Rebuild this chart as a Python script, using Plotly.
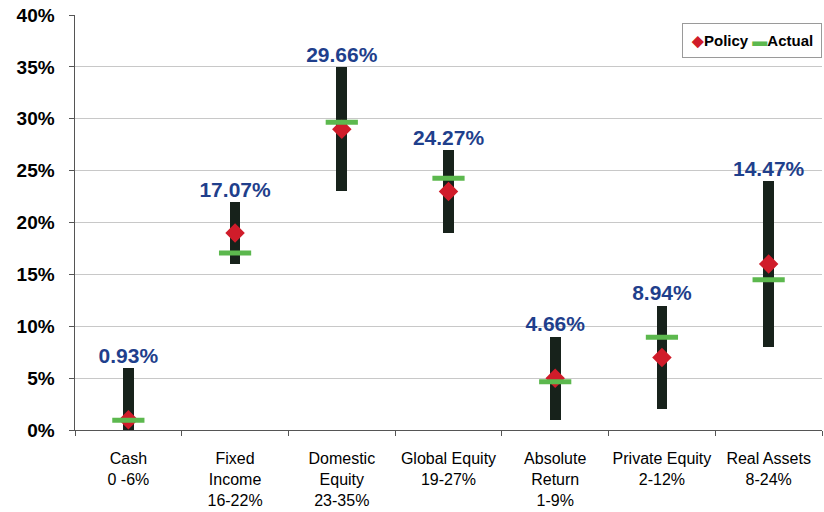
import plotly.graph_objects as go

categories = ["Cash", "Fixed<br>Income", "Domestic<br>Equity", "Global Equity", "Absolute<br>Return", "Private Equity", "Real Assets"]
range_text = ["0 -6%", "16-22%", "23-35%", "19-27%", "1-9%", "2-12%", "8-24%"]
range_low = [0, 16, 23, 19, 1, 2, 8]
range_high = [6, 22, 35, 27, 9, 12, 24]
policy = [1, 19, 29, 23, 5, 7, 16]
actual = [0.93, 17.07, 29.66, 24.27, 4.66, 8.94, 14.47]
y_ticks = [0, 5, 10, 15, 20, 25, 30, 35, 40]

labels = [f"{c}<br>{r}" for c, r in zip(categories, range_text)]
spans = [h - l for l, h in zip(range_low, range_high)]

POLICY_COLOR = "#d01c2a"
ACTUAL_COLOR = "#5cb84e"

fig = go.Figure()
fig.add_trace(go.Bar(
    x=labels, y=spans, base=range_low, width=0.1,
    marker=dict(color="#17221b", line=dict(width=0)),
    showlegend=False, hoverinfo="skip",
))
fig.add_trace(go.Scatter(
    x=labels, y=policy, mode="markers", name="Policy", showlegend=False,
    marker=dict(symbol="diamond", size=15, color=POLICY_COLOR, line=dict(width=0)),
))
fig.add_trace(go.Scatter(
    x=labels, y=actual, mode="markers", name="Actual", showlegend=False,
    marker=dict(symbol="line-ew", size=23, line=dict(width=5, color=ACTUAL_COLOR)),
))
fig.add_trace(go.Scatter(
    x=labels, y=range_high, mode="text",
    text=[f"{v:.2f}%" for v in actual], textposition="top center",
    textfont=dict(family="Liberation Sans, Arial", size=21, color="#1f3f8c", weight="bold"),
    showlegend=False, hoverinfo="skip",
))

# legend box
fig.add_annotation(
    xref="paper", yref="paper", x=1.0, y=0.98, xanchor="right", yanchor="top",
    text=(f"<span style='color:{POLICY_COLOR}'>◆</span>Policy "
          f"<span style='color:{ACTUAL_COLOR}'>▬</span>Actual"),
    showarrow=False, align="left",
    font=dict(family="Liberation Sans, Arial", size=15, color="black", weight="bold"),
    bgcolor="white", bordercolor="#9a9a9a", borderwidth=1, borderpad=8,
)

fig.update_layout(
    width=824, height=512,
    margin=dict(l=75, r=2, t=15, b=82),
    paper_bgcolor="white", plot_bgcolor="white",
    bargap=0, showlegend=False,
    xaxis=dict(
        type="category", tickson="boundaries", ticks="outside", ticklen=5,
        tickcolor="#555", showline=True, linecolor="#555", linewidth=1,
        showgrid=False, tickangle=0, automargin=False, ticklabelstandoff=14,
        tickfont=dict(family="Liberation Sans Narrow, Arial Narrow, Liberation Sans", size=16, color="black"),
    ),
    yaxis=dict(
        range=[0, 40], tickvals=y_ticks,
        ticktext=[f"{v}%\u00a0\u00a0" for v in y_ticks],
        ticks="outside", ticklen=5, tickcolor="#555", automargin=False,
        showline=True, linecolor="#555", linewidth=1,
        showgrid=True, gridcolor="#c8c8c8", gridwidth=1, zeroline=False,
        tickfont=dict(family="Liberation Sans, Arial", size=19, color="black", weight="bold"),
    ),
)

fig.write_html("out.html")
